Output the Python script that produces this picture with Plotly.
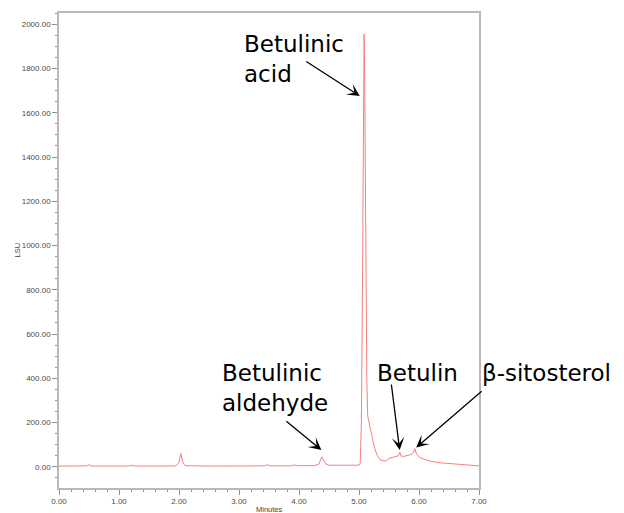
import plotly.graph_objects as go

# ---- data ----
minutes = [0.00, 0.20, 0.40, 0.46, 0.50, 0.54, 0.60, 0.90,
           1.15, 1.21, 1.27, 1.60,
           1.95, 2.00, 2.03, 2.06, 2.10,
           2.50, 3.00,
           3.42, 3.47, 3.52,
           3.88, 3.92, 3.96,
           4.25, 4.33, 4.36, 4.38, 4.40, 4.44, 4.50,
           4.80, 5.00,
           5.02, 5.04, 5.06, 5.075, 5.085, 5.095, 5.11, 5.13, 5.145,
           5.18, 5.21, 5.25, 5.30, 5.36,
           5.45, 5.50, 5.55, 5.62, 5.66, 5.68, 5.70,
           5.75, 5.82, 5.88, 5.91, 5.93, 5.96,
           6.02, 6.10, 6.20, 6.35, 6.50, 6.70, 6.85, 7.00]
lsu = [3, 3, 3, 4, 9, 4, 3, 2,
       3, 7, 3, 3,
       4, 20, 60, 22, 5,
       3, 3,
       4, 9, 4,
       4, 9, 5,
       5, 12, 32, 45, 35, 14, 7,
       6, 7,
       15, 200, 900, 1700, 1955, 1750, 1000, 400, 230,
       190, 145, 95, 52, 30,
       26, 38, 42, 46, 50, 66, 48,
       47, 52, 56, 64, 82, 56,
       40, 33, 25, 18, 14, 10, 7, 4]

x_range = [0, 7]
y_range = [-96, 2051]

# figure geometry (pixels)
W, H = 624, 513
L, R, T, B = 58.5, 144.5, 13, 25
PW = W - L - R
PH = H - T - B


def px_to_paper(px, py):
    return (px - L) / PW, (T + PH - py) / PH


fig = go.Figure()
fig.add_trace(go.Scatter(x=minutes, y=lsu, mode="lines",
                         line=dict(color="rgb(246,128,128)", width=1),
                         hoverinfo="skip", showlegend=False))

label_font = dict(family="DejaVu Sans", size=23, color="black")
annotations = []

# text labels: (text, left px, center px)
labels = [
    ("Betulinic<br>acid", 243, 59),
    ("Betulinic<br>aldehyde", 221, 388),
    ("Betulin", 376, 373),
    ("β-sitosterol", 481.5, 373),
]
for text, lx, cy in labels:
    x, y = px_to_paper(lx, cy)
    annotations.append(dict(x=x, y=y, xref="paper", yref="paper", text=text,
                            showarrow=False, xanchor="left", yanchor="middle",
                            align="left", font=label_font, borderpad=0))

# arrows: (tail px, tip px)
arrows = [
    ((305, 60.5), (360, 96)),
    ((285, 420), (321.5, 450)),
    ((391.5, 383), (400, 450)),
    ((483.5, 390), (416.5, 447.5)),
]
for (tx, ty), (hx, hy) in arrows:
    x, y = px_to_paper(hx, hy)
    annotations.append(dict(x=x, y=y, xref="paper", yref="paper", text="",
                            showarrow=True, arrowhead=3, arrowsize=1.6,
                            arrowwidth=1.3, arrowcolor="black",
                            ax=tx - hx, ay=ty - hy, standoff=0))

# axis titles
annotations.append(dict(x=0.5, y=0, xref="paper", yref="paper", yshift=-21,
                        text="Minutes", showarrow=False, yanchor="middle",
                        font=dict(family="Liberation Sans", size=7.5, color="#444")))
annotations.append(dict(x=0, y=0.5, xref="paper", yref="paper", xshift=-42,
                        text="LSU", showarrow=False, textangle=-90, xanchor="center",
                        font=dict(family="Liberation Sans", size=7.5, color="#444")))

tick_font = dict(family="Liberation Sans", size=8, color="#4a4a4a")
fig.update_layout(
    width=W, height=H,
    margin=dict(l=L, r=R, t=T, b=B, pad=0, autoexpand=False),
    paper_bgcolor="white", plot_bgcolor="white",
    annotations=annotations,
    xaxis=dict(range=x_range, dtick=1, tick0=0, tickformat=".2f",
               automargin=False,
               showgrid=False, zeroline=False,
               showline=True, mirror=True, linecolor="#b8b8b8", linewidth=1.5,
               ticks="outside", ticklen=5, tickwidth=1, tickcolor="#909090",
               tickfont=tick_font,
               minor=dict(dtick=0.2, ticks="outside", ticklen=2.5,
                          tickcolor="#909090", showgrid=False)),
    yaxis=dict(range=y_range, dtick=200, tick0=0, tickformat=".2f",
               automargin=False,
               showgrid=False, zeroline=False,
               showline=True, mirror=True, linecolor="#b8b8b8", linewidth=1.5,
               ticks="outside", ticklen=5, tickwidth=1, tickcolor="#909090",
               tickfont=tick_font,
               minor=dict(dtick=50, ticks="outside", ticklen=2.5,
                          tickcolor="#909090", showgrid=False)),
)

fig.write_html("out.html",
               config={"displayModeBar": False, "responsive": False},
               post_script="document.documentElement.style.margin='0';"
                           "document.documentElement.style.overflow='hidden';"
                           "document.body.style.margin='0';"
                           "document.body.style.overflow='hidden';")
